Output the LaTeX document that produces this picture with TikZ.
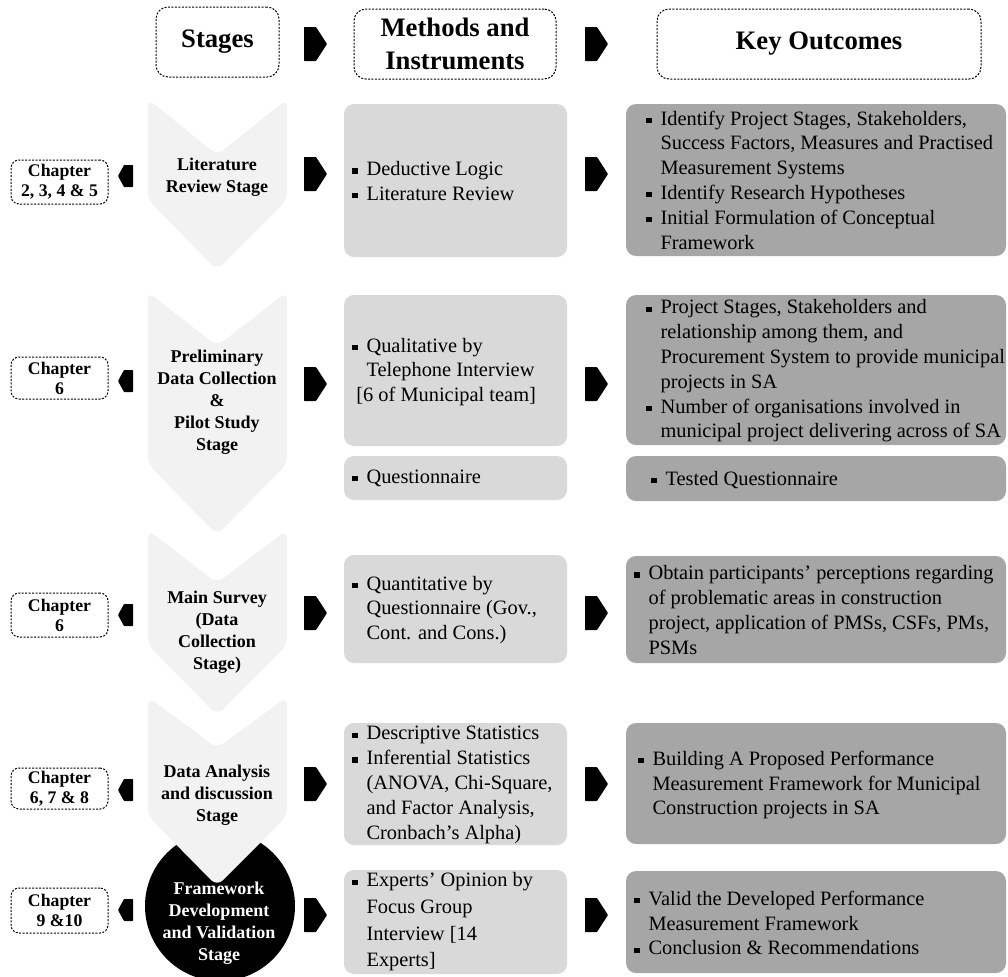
\documentclass[tikz,border=0pt]{standalone}
\usepackage{fontspec}
\setmainfont{Liberation Serif}
\definecolor{chevfill}{HTML}{F2F2F2}
\definecolor{methfill}{HTML}{D9D9D9}
\definecolor{outfill}{HTML}{A6A6A6}
% square bullet and hanging indent for list lines
\newcommand{\bsq}{\makebox[0.7em][l]{\rule[0.1em]{0.26em}{0.26em}}}
\newcommand{\ind}{\makebox[0.7em]{}}
% stage chevron: top, notch depth, start of point, tip
\newcommand{\chevron}[4]{\fill[chevfill, rounded corners=6pt]
  (148,#1) -- (217,#2) -- (287,#1) -- (287,#3) -- (217,#4) -- (148,#3) -- cycle;}
% black arrow pointing right (left edge x, centre y)
\newcommand{\rarrow}[2]{\fill[black, rounded corners=0.5pt]
  (#1,#2-17) -- (#1+12,#2-17) -- (#1+23,#2) -- (#1+12,#2+17) -- (#1,#2+17) -- cycle;}
% small black arrow pointing left (centre y)
\newcommand{\larrow}[1]{\fill[black, rounded corners=0.5pt]
  (133,#1-11) -- (124,#1-11) -- (118,#1) -- (124,#1+11) -- (133,#1+11) -- cycle;}
\begin{document}
\begin{tikzpicture}[x=0.75pt,y=-0.75pt,
  dashbox/.style={draw=black, line width=0.75pt, dash pattern=on 1.5pt off 1.1pt, inner sep=0pt, align=center},
  hdr/.style={dashbox, rounded corners=9pt, minimum height=52.5pt, font=\fontsize{20}{24.5}\selectfont\bfseries},
  chapbox/.style={dashbox, rounded corners=6pt, minimum width=72.75pt, font=\fontsize{13.3}{15}\selectfont\bfseries},
  methbox/.style={fill=methfill, rounded corners=7.5pt, minimum width=167.25pt, inner sep=0pt},
  outbox/.style={fill=outfill, rounded corners=7.5pt, minimum width=285pt, inner sep=0pt},
  body/.style={font=\fontsize{15.3}{18.6}\selectfont, align=left, inner sep=0pt, anchor=west},
  stagetxt/.style={font=\fontsize{13.5}{16.5}\selectfont\bfseries, align=center, inner sep=0pt},
]
\useasboundingbox (0,0) rectangle (1008,976);

% ---- header row ----
\node[hdr, minimum width=92.25pt] (hs) at (217.5,42) {Stages};
\node[hdr, minimum width=151.5pt] (hm) at (455,44) {Methods and\\Instruments};
\node[hdr, minimum width=243pt] (hk) at (819,44) {Key Outcomes};
\rarrow{304}{44}
\rarrow{585}{44}

% ---- stage column ----
\node[circle, fill=black, minimum size=112.5pt, inner sep=0pt] (s5) at (220,906) {};
\chevron{99}{155}{200}{270}
\chevron{292}{346}{464}{535}
\chevron{530}{583}{645}{715}
\chevron{697}{748}{816}{886}

\node[stagetxt] (s1) at (217,177) {Literature\\Review Stage};
\node[stagetxt] (s2) at (217,402) {Preliminary\\Data Collection\\\&\\Pilot Study\\Stage};
\node[stagetxt] (s3) at (217,632) {Main Survey\\(Data\\Collection\\Stage)};
\node[stagetxt] (s4) at (217,795) {Data Analysis\\and discussion\\Stage};
\node[stagetxt, text=white] (s5t) at (219,923) {Framework\\Development\\and Validation\\Stage};

% ---- chapter references ----
\node[chapbox, minimum height=33pt] (c1) at (59.5,182) {Chapter\\2, 3, 4 \& 5};
\node[chapbox, minimum height=31.5pt] (c2) at (59.5,378) {Chapter\\6};
\node[chapbox, minimum height=33pt] (c3) at (59.5,615) {Chapter\\6};
\node[chapbox, minimum height=30.75pt] (c4) at (59.5,788.5) {Chapter\\6, 7 \& 8};
\node[chapbox, minimum height=33.75pt] (c5) at (59.5,910.5) {Chapter\\9 \&10};

\larrow{176}
\larrow{381}
\larrow{615}
\larrow{790}
\larrow{910}

% ---- methods and instruments ----
\node[methbox, minimum height=114.75pt] (m1) at (455.5,180.5) {};
\node[methbox, minimum height=113.25pt] (m2) at (455.5,370.5) {};
\node[methbox, minimum height=33pt] (m2b) at (455.5,478) {};
\node[methbox, minimum height=81pt] (m3) at (455.5,609) {};
\node[methbox, minimum height=91.5pt] (m4) at (455.5,784) {};
\node[methbox, minimum height=78pt] (m5) at (455.5,922) {};

\node[body] (tm1) at (352,181) {\bsq Deductive Logic\\\bsq Literature Review};
\node[body] (tm2) at (352,372) {\bsq Qualitative by\\\ind Telephone Interview\\\makebox[0.2em]{}[6 of Municipal team]};
\node[body] (tm2b) at (352,478) {\bsq Questionnaire};
\node[body] (tm3) at (352,610) {\bsq Quantitative by\\\ind Questionnaire (Gov.,\\\ind Cont. and Cons.)};
\node[body] (tm4) at (352,785) {\bsq Descriptive Statistics\\\bsq Inferential Statistics\\\ind (ANOVA, Chi-Square,\\\ind and Factor Analysis,\\\ind Cronbach’s Alpha)};
\node[body, font=\fontsize{15.3}{20}\selectfont] (tm5) at (352,922) {\bsq Experts’ Opinion by\\\ind Focus Group\\\ind Interview [14\\\ind Experts]};

\rarrow{304}{174}
\rarrow{304}{384}
\rarrow{304}{613}
\rarrow{304}{784}
\rarrow{304}{915}

% ---- key outcomes ----
\node[outbox, minimum height=114pt] (o1) at (816,180) {};
\node[outbox, minimum height=112.5pt] (o2) at (816,370) {};
\node[outbox, minimum height=33.75pt] (o2b) at (816,478.5) {};
\node[outbox, minimum height=80.25pt] (o3) at (816,609.5) {};
\node[outbox, minimum height=90.75pt] (o4) at (816,783.5) {};
\node[outbox, minimum height=76.5pt] (o5) at (816,922) {};

\node[body] (to1) at (646,180) {\bsq Identify Project Stages, Stakeholders,\\\ind Success Factors, Measures and Practised\\\ind Measurement Systems\\\bsq Identify Research Hypotheses\\\bsq Initial Formulation of Conceptual\\\ind Framework};
\node[body] (to2) at (646,371) {\bsq Project Stages, Stakeholders and\\\ind relationship among them, and\\\ind Procurement System to provide municipal\\\ind projects in SA\\\bsq Number of organisations involved in\\\ind municipal project delivering across of SA};
\node[body] (to2b) at (651,480) {\bsq Tested Questionnaire};
\node[body] (to3) at (634,610) {\bsq Obtain participants’ perceptions regarding\\\ind of problematic areas in construction\\\ind project, application of PMSs, CSFs, PMs,\\\ind PSMs};
\node[body] (to4) at (638,785) {\bsq Building A Proposed Performance\\\ind Measurement Framework for Municipal\\\ind Construction projects in SA};
\node[body] (to5) at (634,923) {\bsq Valid the Developed Performance\\\ind Measurement Framework\\\bsq Conclusion \& Recommendations};

\rarrow{585}{174}
\rarrow{585}{384}
\rarrow{585}{613}
\rarrow{585}{784}
\rarrow{585}{915}
\end{tikzpicture}
\end{document}
